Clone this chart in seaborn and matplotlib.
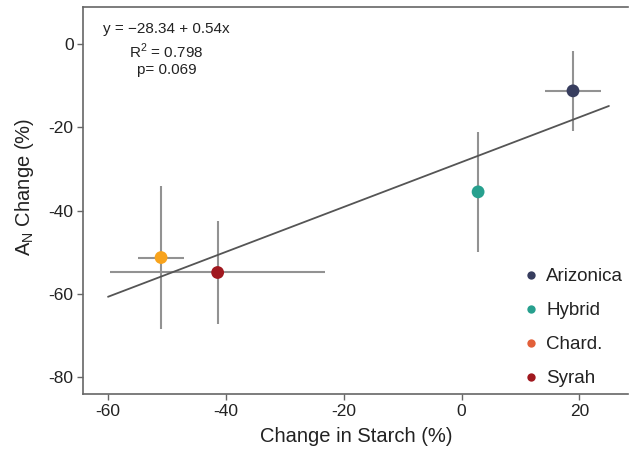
import matplotlib
matplotlib.use("Agg")
import matplotlib.pyplot as plt
from matplotlib.lines import Line2D
import seaborn as sns
import pandas as pd
import numpy as np

# Data
cultivars = ["Arizonica", "Hybrid", "Chard.", "Syrah"]
starch_change = [18.9, 2.8, -51.0, -41.4]
starch_err = [4.8, 0.0, 3.9, 18.2]
an_change = [-11.2, -35.5, -51.3, -54.9]
an_err = [9.6, 14.5, 17.2, 12.5]
point_colors = ["#373d5e", "#27a08e", "#f8a31c", "#a0181f"]
legend_colors = ["#373d5e", "#27a08e", "#e2603a", "#a0181f"]
fit_intercept = -28.34
fit_slope = 0.54
fit_range = [-60, 25]
x_ticks = [-60, -40, -20, 0, 20]
y_ticks = [0, -20, -40, -60, -80]

sns.set_theme(style="white")
plt.rcParams["font.family"] = ["Liberation Sans", "DejaVu Sans"]
plt.rcParams["axes.unicode_minus"] = False

df = pd.DataFrame({"cultivar": cultivars, "starch": starch_change,
                   "an": an_change, "xerr": starch_err, "yerr": an_err})
line_df = pd.DataFrame({"x": fit_range,
                        "y": [fit_intercept + fit_slope * v for v in fit_range]})

fig = plt.figure(figsize=(6.29, 4.53), dpi=100)
ax = fig.add_axes([0.1324, 0.1296, 0.8676 - 0.001, 0.8543])

ax.errorbar(df["starch"], df["an"], xerr=df["xerr"], yerr=df["yerr"],
            fmt="none", ecolor="#929292", elinewidth=1.5, capsize=0, zorder=1)
sns.lineplot(data=line_df, x="x", y="y", ax=ax, color="#555555", lw=1.3, zorder=2)
sns.scatterplot(data=df, x="starch", y="an", hue="cultivar",
                palette=dict(zip(cultivars, point_colors)), s=85,
                edgecolor="none", ax=ax, zorder=3, legend=False)

ax.set_xlim(-64.2, 28.3)
ax.set_ylim(-84.2, 8.9)
ax.set_xticks(x_ticks)
ax.set_yticks(y_ticks)
ax.set_xticklabels([str(t) for t in x_ticks])
ax.set_yticklabels([str(t) for t in y_ticks])
ax.tick_params(axis="both", which="both", direction="out", length=4, width=1,
               color="#666666", labelsize=12.5, labelcolor="#222222", pad=3,
               bottom=True, left=True)
for side in ["left", "bottom", "top", "right"]:
    ax.spines[side].set_color("#666666")
    ax.spines[side].set_linewidth(1.2)
ax.spines["right"].set_visible(False)

ax.set_xlabel("Change in Starch (%)", fontsize=14.5, color="#222222", labelpad=6)
ax.set_ylabel("A$_\\mathregular{N}$ Change (%)", fontsize=14.5, color="#222222")
ax.yaxis.set_label_coords(-0.086, 0.536)

ax.text(0.1525, 0.944, "y = \u221228.34 + 0.54x", transform=ax.transAxes,
        ha="center", va="center", fontsize=11, color="#222222")
ax.text(0.1525, 0.886, "R$^\\mathregular{2}$ = 0.798", transform=ax.transAxes,
        ha="center", va="center", fontsize=11, color="#222222")
ax.text(0.1525, 0.838, "p= 0.069", transform=ax.transAxes,
        ha="center", va="center", fontsize=11, color="#222222")

handles = [Line2D([0], [0], marker="o", linestyle="none", markersize=6,
                  markerfacecolor=c, markeredgecolor="none", label=l)
           for l, c in zip(cultivars, legend_colors)]
leg = ax.legend(handles=handles, loc="center left", bbox_to_anchor=(0.786, 0.172),
                frameon=False, fontsize=13.5, handletextpad=0.25, labelspacing=0.9,
                handlelength=1.1, borderpad=0)
for t in leg.get_texts():
    t.set_color("#222222")

fig.savefig("out.png", dpi=100)
